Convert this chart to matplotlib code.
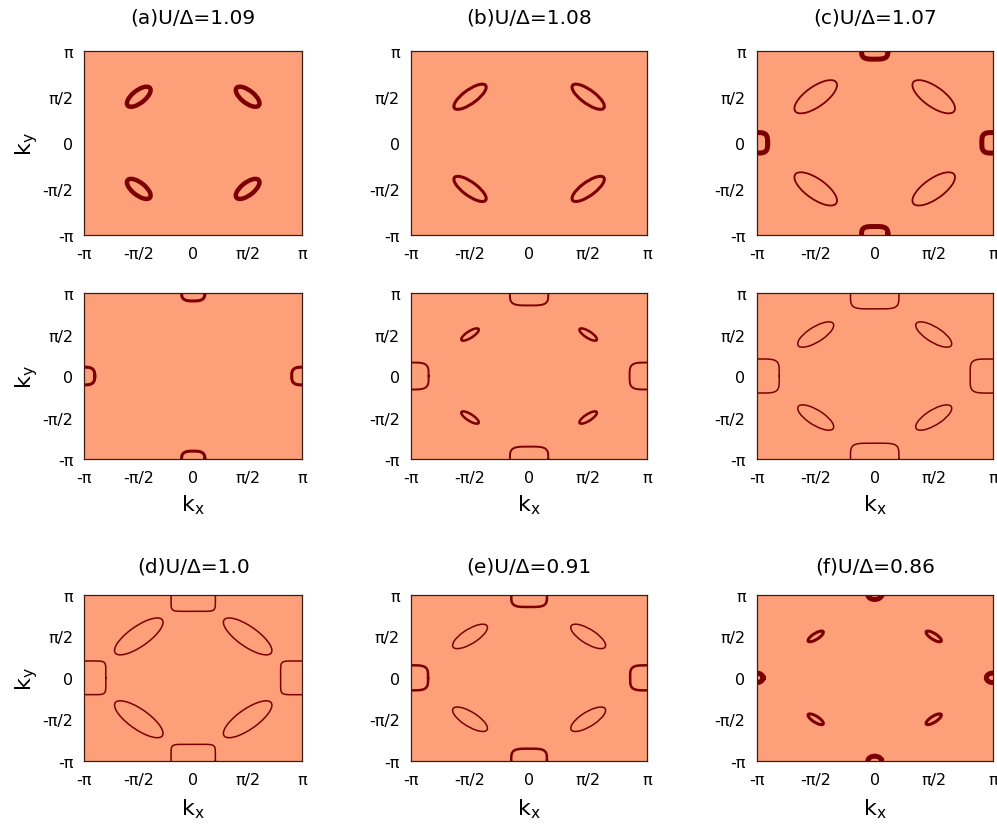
import numpy as np
import matplotlib
matplotlib.use('Agg')
import matplotlib.pyplot as plt
from matplotlib.patches import Ellipse

# panel titles (rows 1 and 3 only)
titles = ['(a)U/Δ=1.09', '(b)U/Δ=1.08', '(c)U/Δ=1.07',
          '', '', '',
          '(d)U/Δ=1.0', '(e)U/Δ=0.91', '(f)U/Δ=0.86']

# nodal pockets at (±π/2, ±π/2): semi-axes along and across the zone diagonal
node_major = [0.44, 0.57, 0.74, 0.0, 0.31, 0.63, 0.93, 0.61, 0.27]
node_minor = [0.20, 0.21, 0.31, 0.0, 0.11, 0.25, 0.34, 0.24, 0.10]
node_center = np.pi / 2

# antinodal pockets at (±π, 0) and (0, ±π): half-width along the edge,
# depth into the zone, superellipse exponent (squareness)
edge_half = [0.0, 0.0, 0.35, 0.335, 0.51, 0.645, 0.64, 0.475, 0.18]
edge_depth = [0.0, 0.0, 0.29, 0.30, 0.47, 0.60, 0.62, 0.455, 0.17]
edge_power = [2, 2, 3.5, 3, 4, 5, 8, 4, 2]

# line widths of the contours
node_lw = [3.2, 2.2, 1.3, 0, 1.8, 1.1, 1.1, 1.1, 2.2]
edge_lw = [0, 0, 3.6, 2.2, 1.4, 1.1, 1.1, 1.8, 3.6]

tick_vals = [-np.pi, -np.pi / 2, 0, np.pi / 2, np.pi]
tick_labels = ['-π', '-π/2', '0', 'π/2', 'π']

bg = '#fda07a'
line_c = '#7d0000'
frame_c = '#3a1e18'

# axes boxes in figure fractions
col_left = [0.0846, 0.4122, 0.7590]
col_width = [0.2184, 0.2370, 0.2367]
row_bottom = [0.7150, 0.4444, 0.0801]
row_height = [0.2226, 0.2005, 0.2001]


def superellipse(n, npts=400):
    t = np.linspace(0, 2 * np.pi, npts)
    c, s = np.cos(t), np.sin(t)
    return np.sign(c) * np.abs(c) ** (2 / n), np.sign(s) * np.abs(s) ** (2 / n)


fig = plt.figure(figsize=(9.97, 8.28), dpi=100)

for i in range(9):
    r, c = divmod(i, 3)
    ax = fig.add_axes([col_left[c], row_bottom[r], col_width[c], row_height[r]])
    ax.set_facecolor(bg)
    ax.set_xlim(-np.pi, np.pi)
    ax.set_ylim(-np.pi, np.pi)
    ax.set_xticks(tick_vals)
    ax.set_xticklabels(tick_labels)
    ax.set_yticks(tick_vals)
    ax.set_yticklabels(tick_labels)
    ax.tick_params(length=0, pad=8, labelsize=11.5)
    for sp in ax.spines.values():
        sp.set_color(frame_c)
        sp.set_linewidth(0.9)

    # nodal ellipses
    if node_major[i] > 0:
        for sx in (-1, 1):
            for sy in (-1, 1):
                ax.add_patch(Ellipse((sx * node_center, sy * node_center),
                                     2 * node_major[i], 2 * node_minor[i],
                                     angle=-45 * sx * sy, fill=False,
                                     ec=line_c, lw=node_lw[i]))

    # pockets on the zone boundary
    if edge_half[i] > 0:
        u, v = superellipse(edge_power[i])
        for s in (-1, 1):
            ax.plot(edge_half[i] * u, s * np.pi + edge_depth[i] * v,
                    color=line_c, lw=edge_lw[i])
            ax.plot(s * np.pi + edge_depth[i] * u, edge_half[i] * v,
                    color=line_c, lw=edge_lw[i])

    if titles[i]:
        ax.set_title(titles[i], fontsize=14.5, pad=20 if r == 0 else 17)
    if c == 0:
        ax.set_ylabel(r'$\mathregular{k_y}$', fontsize=16, labelpad=2)
    if r > 0:
        ax.set_xlabel(r'$\mathregular{k_x}$', fontsize=16,
                      labelpad=5 if r == 1 else 7)

fig.savefig('out.png', dpi=100)
